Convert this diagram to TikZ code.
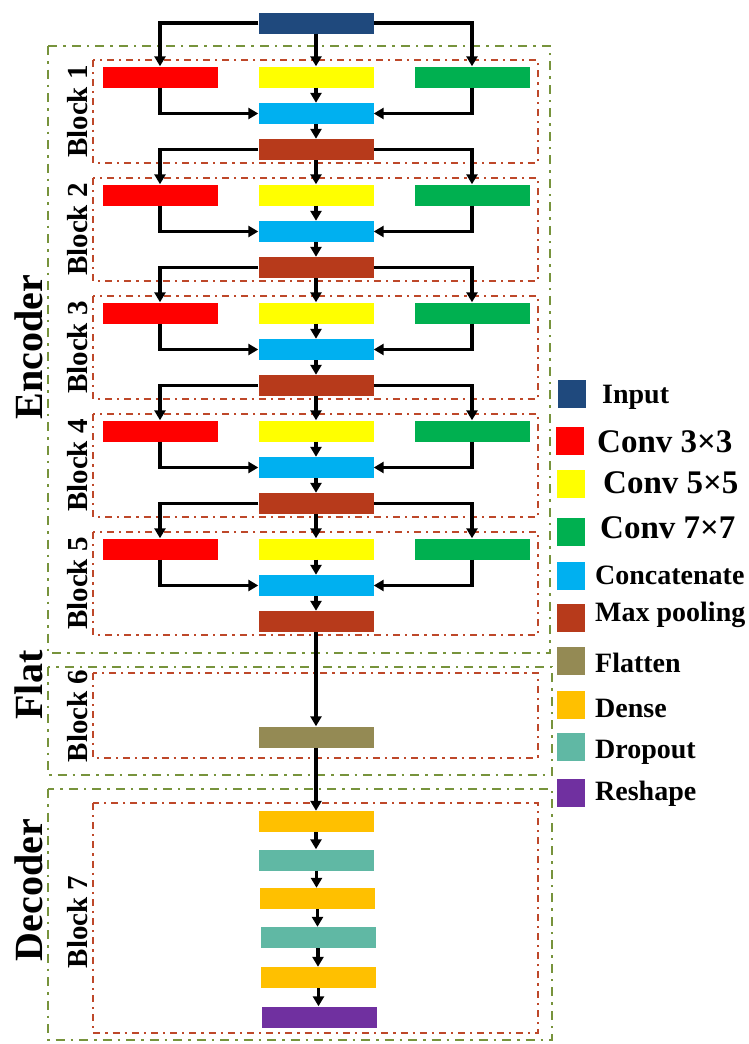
\documentclass[tikz,border=0pt]{standalone}
\usepackage{fontspec}
\setmainfont{Liberation Serif}
\usetikzlibrary{arrows.meta}
\definecolor{cin}{RGB}{31,73,125}
\definecolor{cred}{RGB}{255,0,0}
\definecolor{cyel}{RGB}{255,255,0}
\definecolor{cgrn}{RGB}{0,176,80}
\definecolor{ccat}{RGB}{0,176,240}
\definecolor{cmp}{RGB}{183,58,27}
\definecolor{cflat}{RGB}{148,138,84}
\definecolor{cdense}{RGB}{255,192,0}
\definecolor{cdrop}{RGB}{96,184,164}
\definecolor{cresh}{RGB}{112,48,160}
\definecolor{gbox}{RGB}{119,147,60}
\definecolor{rbox}{RGB}{190,72,42}
\tikzset{
  lay/.style={minimum width=115pt,minimum height=21pt,inner sep=0pt,draw=none},
  arr/.style={line width=3.3pt,-{Triangle[length=10pt,width=11pt]}},
  greenbox/.style={draw=gbox,line width=2.8pt,dash pattern=on 9pt off 6pt on 2.5pt off 6pt},
  redbox/.style={draw=rbox,line width=2.2pt,dash pattern=on 7pt off 5pt on 2.2pt off 5pt},
  blk/.style={rotate=90,font=\fontsize{29}{31}\selectfont\bfseries,inner sep=0pt},
  part/.style={rotate=90,font=\fontsize{40}{42}\selectfont\bfseries,inner sep=0pt},
  legsq/.style={minimum width=28pt,minimum height=28pt,inner sep=0pt},
  legtx/.style={anchor=base west,inner sep=0pt,font=\fontsize{28}{30}\selectfont\bfseries},
  legbig/.style={anchor=base west,inner sep=0pt,font=\fontsize{33}{35}\selectfont\bfseries}
}
\begin{document}
\begin{tikzpicture}[x=1pt,y=-1pt]
\useasboundingbox (0,0) rectangle (748,1044);
% outer green boxes
\draw[greenbox] (48,46) rectangle (550,653);
\draw[greenbox] (48,667) rectangle (552,775);
\draw[greenbox] (48,789) rectangle (552,1040);
\node[part] (enc) at (29,347) {Encoder};
\node[part] (flat) at (29,685) {Flat};
\node[part] (dec) at (29,890) {Decoder};
% input
\node[lay,fill=cin] (mp0) at (316,23) {};
\foreach \k in {1,...,5}{
  \pgfmathsetmacro\d{118*(\k-1)}
  \pgfmathtruncatemacro\p{\k-1}
  \draw[redbox] (93,60+\d) rectangle (538,163+\d);
  \node[blk] (bl\k) at (78,111.5+\d) {Block \k};
  \node[lay,fill=cred] (r\k) at (160,77+\d) {};
  \node[lay,fill=cyel] (y\k) at (316,77+\d) {};
  \node[lay,fill=cgrn] (g\k) at (472,77+\d) {};
  \node[lay,fill=ccat] (c\k) at (316,113.5+\d) {};
  \node[lay,fill=cmp] (mp\k) at (316,149.5+\d) {};
  \draw[arr] (mp\p.west) -| (r\k.north);
  \draw[arr] (mp\p.east) -| (g\k.north);
  \draw[arr] (mp\p.south) -- (y\k.north);
  \draw[arr] (y\k.south) -- (c\k.north);
  \draw[arr] (r\k.south) |- (c\k.west);
  \draw[arr] (g\k.south) |- (c\k.east);
  \draw[arr] (c\k.south) -- (mp\k.north);
}
% block 6
\draw[redbox] (93,673) rectangle (538,758);
\node[blk] (bl6) at (78,716) {Block 6};
\node[lay,fill=cflat] (fl) at (316,737) {};
\draw[arr] (mp5.south) -- (fl.north);
% block 7
\draw[redbox] (93,803) rectangle (538,1033);
\node[blk] (bl7) at (78,922) {Block 7};
\node[lay,fill=cdense] (de1) at (316,821.5) {};
\node[lay,fill=cdrop] (do1) at (316.5,860) {};
\node[lay,fill=cdense] (de2) at (317.5,898.5) {};
\node[lay,fill=cdrop] (do2) at (318,937.5) {};
\node[lay,fill=cdense] (de3) at (318.5,977.5) {};
\node[lay,fill=cresh] (rs) at (319.5,1017) {};
\draw[arr] (fl.south) -- (de1.north);
\draw[arr] (de1.south) -- (de1.south |- do1.north);
\draw[arr] (do1.south) -- (do1.south |- de2.north);
\draw[arr] (de2.south) -- (de2.south |- do2.north);
\draw[arr] (do2.south) -- (do2.south |- de3.north);
\draw[arr] (de3.south) -- (de3.south |- rs.north);
% legend
\node[legsq,fill=cin] (l1) at (572,393.5) {};
\node[legtx] (t1) at (602,403) {Input};
\node[legsq,fill=cred] (l2) at (570,440.5) {};
\node[legbig] (t2) at (597,452) {Conv 3×3};
\node[legsq,fill=cyel] (l3) at (571,483.5) {};
\node[legbig] (t3) at (603,493) {Conv 5×5};
\node[legsq,fill=cgrn] (l4) at (571,532) {};
\node[legbig] (t4) at (600,538) {Conv 7×7};
\node[legsq,fill=ccat] (l5) at (570.5,576) {};
\node[legtx] (t5) at (595,584) {Concatenate};
\node[legsq,fill=cmp] (l6) at (570.5,618) {};
\node[legtx] (t6) at (595,621) {Max pooling};
\node[legsq,fill=cflat] (l7) at (570.5,661) {};
\node[legtx] (t7) at (595,672) {Flatten};
\node[legsq,fill=cdense] (l8) at (570.5,704.5) {};
\node[legtx] (t8) at (595,717) {Dense};
\node[legsq,fill=cdrop] (l9) at (570.5,747) {};
\node[legtx] (t9) at (595,758) {Dropout};
\node[legsq,fill=cresh] (l10) at (570.5,792.5) {};
\node[legtx] (t10) at (595,800) {Reshape};
\end{tikzpicture}
\end{document}
